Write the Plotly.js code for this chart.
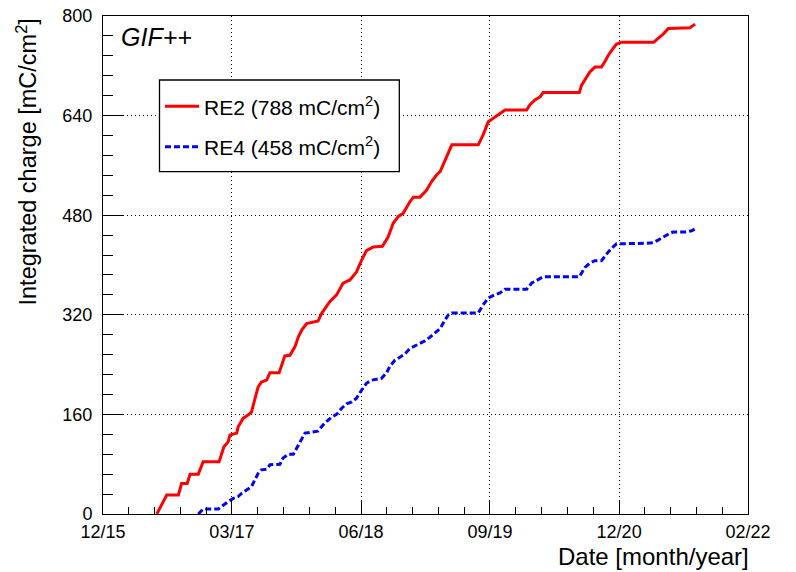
<!DOCTYPE html>
<html>
<head>
<meta charset="utf-8">
<script src="https://cdn.plot.ly/plotly-3.0.1.min.js"></script>
<style>
html,body{margin:0;padding:0;background:#fff;}
#chart{width:796px;height:572px;}
</style>
</head>
<body>
<div id="chart"></div>
<script>
// ---- data ----
const re2Dates = ['2016-06-21','2016-07-26','2016-09-05','2016-09-16','2016-10-06','2016-10-16','2016-11-14','2016-11-20','2016-12-01','2017-01-26',
 '2017-02-04','2017-02-12','2017-02-27','2017-03-05','2017-03-29','2017-04-03','2017-04-21','2017-05-08','2017-05-20','2017-06-01',
 '2017-06-12','2017-06-24','2017-07-12','2017-07-24','2017-08-25','2017-09-03','2017-09-14','2017-10-02','2017-10-20','2017-11-01',
 '2017-11-13','2017-11-30','2018-01-09','2018-01-21','2018-02-05','2018-02-19','2018-03-15','2018-04-07','2018-05-01','2018-05-24',
 '2018-06-11','2018-06-28','2018-07-22','2018-08-23','2018-09-12','2018-09-30','2018-10-18','2018-11-04','2018-11-28','2018-12-10',
 '2019-01-02','2019-01-25','2019-02-12','2019-03-02','2019-03-14','2019-03-31','2019-04-24','2019-07-26','2019-08-12','2019-08-30',
 '2019-09-17','2019-10-04','2019-10-28','2020-01-12','2020-01-23','2020-02-10','2020-02-28','2020-03-10','2020-07-15','2020-07-23',
 '2020-08-07','2020-08-21','2020-09-08','2020-10-01','2020-10-13','2020-10-25','2020-11-11','2020-11-23','2020-12-11','2021-04-03',
 '2021-04-18','2021-05-06','2021-05-24','2021-08-08','2021-08-26'];
const re2Charge = [0,30.5,30.5,49,49,64,64,71,84,84,
 97,108,116,127,130,140,154,159,164,183,
 204,212,215,227,227,239,254,255,269,285,
 296,306,310,322,333,341,352,371,376,389,
 408,423,429,430,445,467,478,483,502,509,
 509,520,534,545,550,569,593,593,609,630,
 636,641,649,649,657,665,670,677,677,689,
 700,710,718,718,727,737,748,755,758,758,
 764,771,780,781,787];

const re4Dates = ['2016-11-14','2016-12-01','2017-01-23','2017-02-09','2017-02-27','2017-03-17','2017-04-03','2017-04-15','2017-05-03','2017-05-20',
 '2017-06-01','2017-06-12','2017-06-24','2017-07-12','2017-07-24','2017-08-28','2017-09-08','2017-09-26','2017-10-14','2017-10-26',
 '2017-11-07','2017-11-24','2018-01-08','2018-02-03','2018-02-27','2018-03-15','2018-04-02','2018-04-19','2018-05-07','2018-05-24',
 '2018-06-11','2018-06-28','2018-07-16','2018-08-20','2018-09-07','2018-09-18','2018-10-06','2018-10-23','2018-11-10','2018-11-28',
 '2018-12-23','2019-01-19','2019-02-06','2019-02-23','2019-03-14','2019-03-31','2019-04-12','2019-04-24','2019-07-26','2019-08-12',
 '2019-08-30','2019-09-17','2019-10-10','2019-10-28','2020-01-12','2020-01-30','2020-02-22','2020-03-10','2020-07-15','2020-07-23',
 '2020-08-04','2020-08-21','2020-09-08','2020-10-01','2020-10-13','2020-10-25','2020-11-11','2020-11-23','2021-03-09','2021-04-01',
 '2021-04-18','2021-05-06','2021-05-30','2021-06-10','2021-07-21','2021-08-14','2021-08-26'];
const re4Charge = [0,8,8,14.5,20,25,28,33,39,44,
 55,65,71,72,79,80,90,96,96,106,
 116,130,133,147,156,160,170,177,180,186,
 199,210,215,218,227,237,247,252,257,266,
 272,278,284,291,298,312,320,323,323,336,
 347,351,355,361,361,371,377,381,381,388,
 396,403,407,407,415,421,429,434,435,436,
 440,445,451,453,453,455,458];

const seriesNames = ['RE2 (788 mC/cm<sup>2</sup>)', 'RE4 (458 mC/cm<sup>2</sup>)'];
const xTickVals = ['2015-12-15','2017-03-12','2018-06-09','2019-09-05','2020-12-02','2022-02-28'];
const xTickText = ['12/15','03/17','06/18','09/19','12/20','02/22'];
const yTickVals = [0,160,320,480,640,800];

// minor ticks: 5 divisions between major ticks
const minorX = [];
for (let i = 0; i < xTickVals.length - 1; i++) {
  const a = new Date(xTickVals[i] + 'T00:00:00Z').getTime();
  const b = new Date(xTickVals[i+1] + 'T00:00:00Z').getTime();
  for (let k = 1; k < 5; k++) {
    minorX.push(new Date(a + (b - a) * k / 5).toISOString().slice(0,10));
  }
}

const FONT = 'Liberation Sans, Arial, Helvetica, sans-serif';

const traces = [
  {x: re2Dates, y: re2Charge, type: 'scatter', mode: 'lines', name: seriesNames[0],
   legendgroup: 'a', line: {color: '#ff0000', width: 3}},
  {x: re4Dates, y: re4Charge, type: 'scatter', mode: 'lines', name: seriesNames[1],
   legendgroup: 'b', line: {color: '#0000ff', width: 3, dash: '6px,3px'}}
];

const layout = {
  width: 796, height: 572,
  margin: {l: 103, r: 48, t: 16, b: 58},
  paper_bgcolor: '#fff', plot_bgcolor: '#fff',
  font: {family: FONT, color: '#000', size: 18},
  showlegend: true,
  legend: {x: 0.0884, y: 0.859, xanchor: 'left', yanchor: 'top',
           bgcolor: 'rgba(0,0,0,0)', borderwidth: 0,
           font: {family: FONT, size: 21, color: '#000'},
           traceorder: 'grouped', tracegroupgap: 10, itemwidth: 34},
  xaxis: {
    type: 'date', range: ['2015-12-15','2022-02-28'],
    tickmode: 'array', tickvals: xTickVals, ticktext: xTickText,
    ticks: 'inside', ticklen: 14, tickwidth: 1, tickcolor: '#000',
    showline: true, mirror: true, linecolor: '#000', linewidth: 1,
    showgrid: true, gridcolor: '#000', gridwidth: 1, griddash: '1px,3px',
    zeroline: false,
    tickfont: {family: FONT, size: 18, color: '#000'},
    ticklabelstandoff: 1,
    minor: {tickmode: 'array', tickvals: minorX, ticks: 'inside', ticklen: 7,
            tickcolor: '#000', tickwidth: 1, showgrid: false}
  },
  yaxis: {
    range: [0, 800],
    tickmode: 'array', tickvals: yTickVals,
    ticks: 'inside', ticklen: 20, tickwidth: 1, tickcolor: '#000',
    showline: true, mirror: true, linecolor: '#000', linewidth: 1,
    showgrid: true, gridcolor: '#000', gridwidth: 1, griddash: '1px,3px',
    zeroline: false,
    tickfont: {family: FONT, size: 18, color: '#000'},
    ticklabelstandoff: 6,
    minor: {dtick: 32, tick0: 0, ticks: 'inside', ticklen: 10,
            tickcolor: '#000', tickwidth: 1, showgrid: false}
  },
  shapes: [
    {type: 'rect', xref: 'paper', yref: 'paper', layer: 'above',
     x0: 0.0876, x1: 0.4594, y0: 0.6877, y1: 0.8715,
     line: {color: '#000', width: 1.3}, fillcolor: '#fff'}
  ],
  annotations: [
    {text: 'Integrated charge [mC/cm<sup>2</sup>]', textangle: -90,
     xref: 'paper', yref: 'paper', x: 0, y: 1, xanchor: 'center', yanchor: 'top',
     xshift: -77, yshift: -1, showarrow: false,
     font: {family: FONT, size: 23.5, color: '#000'}},
    {text: 'Date [month/year]',
     xref: 'paper', yref: 'paper', x: 1, y: 0, xanchor: 'right', yanchor: 'middle',
     xshift: 3, yshift: -42, showarrow: false,
     font: {family: FONT, size: 24, color: '#000'}},
    {text: '<i>GIF++</i>',
     xref: 'paper', yref: 'paper', x: 0, y: 1, xanchor: 'left', yanchor: 'middle',
     xshift: 16, yshift: -21, showarrow: false,
     font: {family: FONT, size: 25, color: '#000'}}
  ]
};

Plotly.newPlot('chart', traces, layout, {displayModeBar: false, staticPlot: true});
</script>
</body>
</html>
